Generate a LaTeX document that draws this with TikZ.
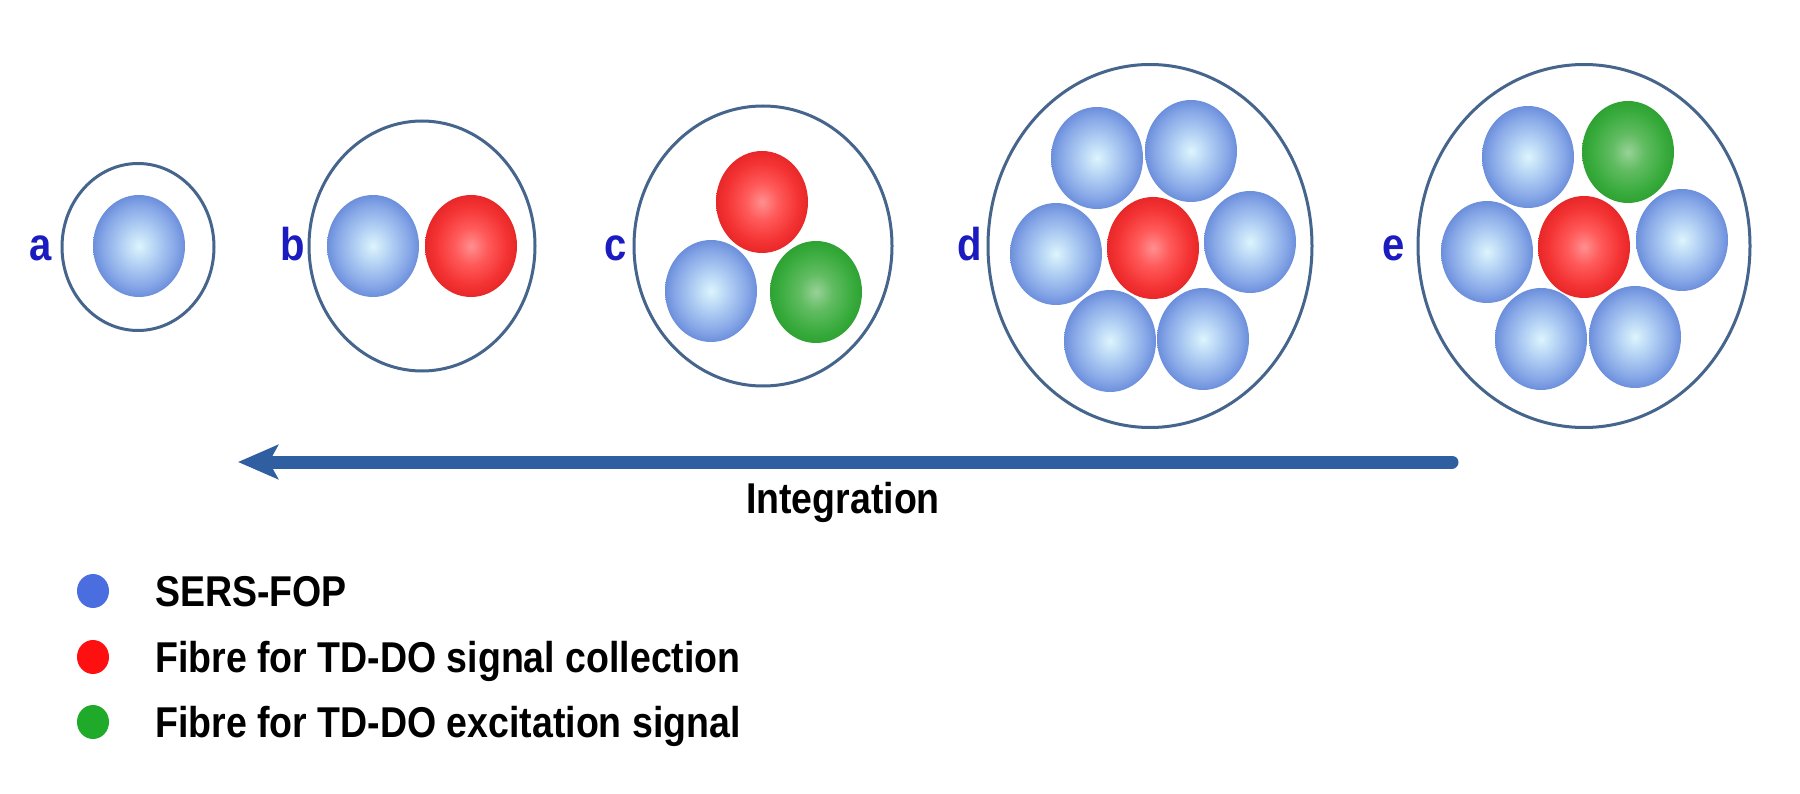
\documentclass[tikz,border=0pt]{standalone}
\usepackage{fontspec}
\setmainfont{Liberation Sans}
\usetikzlibrary{shapes.geometric,arrows.meta}
\definecolor{rimc}{HTML}{45658C}
\definecolor{arrc}{HTML}{2F5FA0}
\definecolor{labc}{HTML}{1B1BC0}
\definecolor{bl1}{HTML}{DDF5FD}
\definecolor{bl2}{HTML}{B4D2F4}
\definecolor{bl3}{HTML}{8AAAE8}
\definecolor{bl4}{HTML}{6C8FDC}
\definecolor{rd1}{HTML}{FF9090}
\definecolor{rd2}{HTML}{FF5A5A}
\definecolor{rd3}{HTML}{F53535}
\definecolor{rd4}{HTML}{E82828}
\definecolor{gr1}{HTML}{98D198}
\definecolor{gr2}{HTML}{62BC62}
\definecolor{gr3}{HTML}{3CAD40}
\definecolor{gr4}{HTML}{2EA233}
\definecolor{legb}{HTML}{4A6EE0}
\definecolor{legr}{HTML}{FF1010}
\definecolor{legg}{HTML}{20AA2A}
\pgfdeclareradialshading{blueball}{\pgfpoint{0bp}{0bp}}{color(0bp)=(bl1); color(9bp)=(bl2); color(19bp)=(bl3); color(25bp)=(bl4); color(50bp)=(bl4)}
\pgfdeclareradialshading{redball}{\pgfpoint{0bp}{0bp}}{color(0bp)=(rd1); color(9bp)=(rd2); color(19bp)=(rd3); color(25bp)=(rd4); color(50bp)=(rd4)}
\pgfdeclareradialshading{greenball}{\pgfpoint{0bp}{0bp}}{color(0bp)=(gr1); color(9bp)=(gr2); color(19bp)=(gr3); color(25bp)=(gr4); color(50bp)=(gr4)}
\begin{document}
\begin{tikzpicture}[x=1pt,y=-1pt,
  bundle/.style={ellipse, draw=rimc, line width=3pt, inner sep=0pt},
  fib/.style={ellipse, inner sep=0pt, minimum width=92pt, minimum height=102pt},
  sers/.style={fib, shading=blueball},
  coll/.style={fib, shading=redball},
  exci/.style={fib, shading=greenball},
  lab/.style={font=\fontsize{40}{40}\selectfont\bfseries, text=labc, inner sep=0pt, anchor=base},
  legdot/.style={ellipse, inner sep=0pt, minimum width=32pt, minimum height=34pt},
  legtxt/.style={font=\fontsize{37.5}{40}\selectfont\bfseries, inner sep=0pt, anchor=base west},
]
\fill[white] (0,0) rectangle (1800,794);
\useasboundingbox (0,0) rectangle (1800,794);

% a
\node[bundle, minimum width=152pt, minimum height=167pt] (A) at (138,247) {};
\node[sers] (A1) at (139,246) {};
\node[lab] (la) at (41,261) {\scalebox{1}[1.15]{a}};

% b
\node[bundle, minimum width=226pt, minimum height=250pt] (B) at (422,246) {};
\node[sers] (B1) at (373,246) {};
\node[coll] (B2) at (471,246) {};
\node[lab] (lb) at (293,261) {\scalebox{1}[1.15]{b}};

% c
\node[bundle, minimum width=258pt, minimum height=280pt] (C) at (763,246) {};
\node[coll] (C1) at (762,202) {};
\node[sers] (C2) at (711,291) {};
\node[exci] (C3) at (816,292) {};
\node[lab] (lc) at (616,261) {\scalebox{1}[1.15]{c}};

% d
\node[bundle, minimum width=324pt, minimum height=363pt] (D) at (1150,246) {};
\node[sers] (D1) at (1097,158) {};
\node[sers] (D2) at (1191,151) {};
\node[sers] (D3) at (1056,254) {};
\node[coll] (D4) at (1153,248) {};
\node[sers] (D5) at (1250,242) {};
\node[sers] (D6) at (1110,341) {};
\node[sers] (D7) at (1203,339) {};
\node[lab] (ld) at (970,261) {\scalebox{1}[1.15]{d}};

% e
\node[bundle, minimum width=332pt, minimum height=363pt] (E) at (1584,246) {};
\node[sers] (E1) at (1528,157) {};
\node[exci] (E2) at (1628,152) {};
\node[sers] (E3) at (1487,252) {};
\node[coll] (E4) at (1584,247) {};
\node[sers] (E5) at (1682,240) {};
\node[sers] (E6) at (1541,339) {};
\node[sers] (E7) at (1635,337) {};
\node[lab] (le) at (1394,261) {\scalebox{1}[1.15]{e}};

% arrow
\coordinate (arrS) at (1452,462);
\coordinate (arrT) at (238,462);
\draw[arrc, line width=13pt, line cap=round, -{Stealth[length=40pt, width=34pt, inset=9pt]}] (arrS) -- (arrT);
\node[legtxt, anchor=base] (integ) at (843,513) {\scalebox{1}[1.15]{Integration}};

% legend
\node[legdot, fill=legb] (k1) at (93,591) {};
\node[legdot, fill=legr] (k2) at (93,657) {};
\node[legdot, fill=legg] (k3) at (93,722) {};
\node[legtxt] (t1) at (155,606) {\scalebox{1}[1.15]{SERS-FOP}};
\node[legtxt] (t2) at (155,672) {\scalebox{1}[1.15]{Fibre for TD-DO signal collection}};
\node[legtxt] (t3) at (155,737) {\scalebox{1}[1.15]{Fibre for TD-DO excitation signal}};
\end{tikzpicture}
\end{document}
